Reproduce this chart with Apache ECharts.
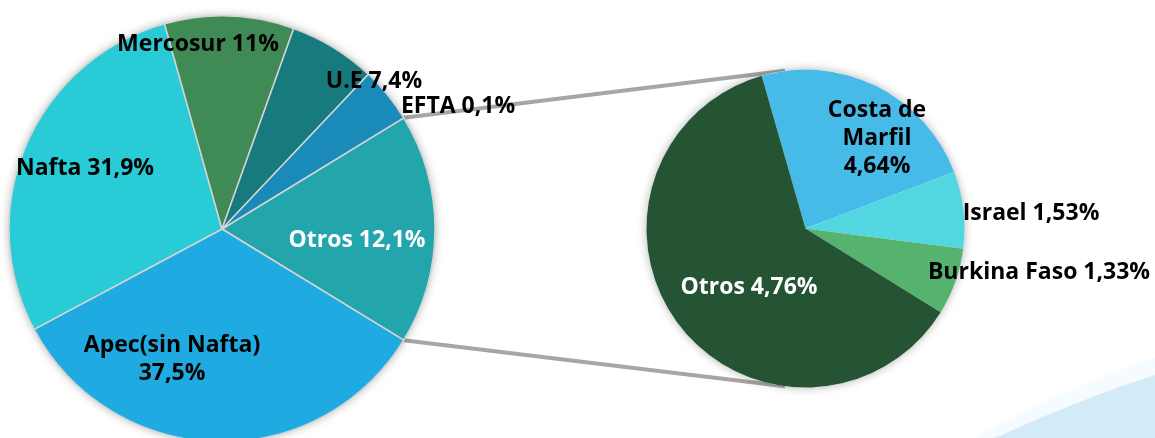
<!DOCTYPE html>
<html lang="es">

<head>
    <meta charset="UTF-8">
    <title>Exportaciones por bloque</title>
    <script src="https://cdn.jsdelivr.net/npm/echarts@6/dist/echarts.min.js"></script>
    <style>
        html, body {
            margin: 0;
            padding: 0;
            background: #fff;
        }
        #chart {
            width: 1155px;
            height: 438px;
        }
    </style>
</head>

<body>
    <div id="chart"></div>

    <script>
        // pie principal, en sentido horario empezando por "Otros"
        var bloques = ['Otros', 'Apec(sin Nafta)', 'Nafta', 'Mercosur', 'U.E', 'EFTA'];
        var bloqueValores = [19.6, 37.5, 31.9, 11, 7.4, 4.7];
        var bloqueEtiquetas = ['Otros 12,1%', 'Apec(sin Nafta)\n37,5%', 'Nafta 31,9%', 'Mercosur 11%', 'U.E 7,4%', 'EFTA 0,1%'];

        // detalle de "Otros"
        var paises = ['Costa de Marfil', 'Israel', 'Burkina Faso', 'Otros'];
        var paisValores = [4.64, 1.53, 1.33, 12.1];
        var paisEtiquetas = ['Costa de\nMarfil\n4,64%', 'Israel 1,53%', 'Burkina Faso 1,33%', 'Otros 4,76%'];

        var coloresBloques = ['#22a5ab', '#1fabe2', '#28cbd6', '#3f8a55', '#177b7d', '#1a8ab8'];
        var coloresPaises = ['#47bbe8', '#52d7e0', '#56b26f', '#255435'];

        // layout
        var izq = { c: [222, 229], r: 213 };
        var der = { c: [805.5, 228.5], r: 159, start: 106 };
        var posBloques = [[357, 240], [172, 359], [85, 168], [198, 44], [374, 81], [458, 106]];
        var posPaises = [[877, 138], [1031, 213], [1039, 272], [749, 287]];

        var total = bloqueValores.reduce(function (a, b) { return a + b; }, 0);
        var medio = 360 * bloqueValores[0] / total / 2;

        function punto(p, ang) {
            var a = ang * Math.PI / 180;
            return [p.c[0] + p.r * Math.cos(a), p.c[1] - p.r * Math.sin(a)];
        }
        var a1 = punto(izq, medio), a2 = punto(izq, -medio);
        var b1 = punto(der, 97.4), b2 = punto(der, -97.4);

        // curva decorativa abajo a la derecha
        function curva(p0, p1, p2) {
            var pts = [];
            for (var i = 0; i <= 30; i++) {
                var t = i / 30, u = 1 - t;
                pts.push([u * u * p0[0] + 2 * u * t * p1[0] + t * t * p2[0],
                          u * u * p0[1] + 2 * u * t * p1[1] + t * t * p2[1]]);
            }
            pts.push([1155, 438]);
            return pts;
        }

        function datos(nombres, valores, colores) {
            return nombres.map(function (n, i) {
                var d = {
                    name: n,
                    value: valores[i],
                    itemStyle: { color: colores[i] }
                };
                if (n === 'Otros') d.label = { color: '#fff' };
                return d;
            });
        }

        var fuente = {
            fontFamily: 'Open Sans',
            fontWeight: 'bold',
            fontSize: 23,
            lineHeight: 28
        };

        var chart = echarts.init(document.getElementById('chart'));
        chart.setOption({
            animation: false,
            backgroundColor: '#fff',
            graphic: [
                {
                    type: 'polygon',
                    z: 0,
                    shape: { points: curva([975, 438], [1065, 388], [1155, 358]) },
                    style: { fill: 'rgba(214,238,250,0.25)' }
                },
                {
                    type: 'polygon',
                    z: 0,
                    shape: { points: curva([995, 438], [1078, 400], [1155, 375]) },
                    style: { fill: '#d3ebf8' }
                },
                {
                    type: 'line',
                    z: 0,
                    shape: { x1: a1[0], y1: a1[1], x2: b1[0], y2: b1[1] },
                    style: { stroke: '#a6a6a6', lineWidth: 4 }
                },
                {
                    type: 'line',
                    z: 0,
                    shape: { x1: a2[0], y1: a2[1], x2: b2[0], y2: b2[1] },
                    style: { stroke: '#a6a6a6', lineWidth: 4 }
                },
                {
                    type: 'circle',
                    z: 0,
                    shape: { cx: izq.c[0], cy: izq.c[1], r: izq.r },
                    style: { fill: '#fff', shadowBlur: 10, shadowColor: 'rgba(0,0,0,0.3)' }
                },
                {
                    type: 'circle',
                    z: 0,
                    shape: { cx: der.c[0], cy: der.c[1], r: der.r },
                    style: { fill: '#fff', shadowBlur: 10, shadowColor: 'rgba(0,0,0,0.3)' }
                }
            ],
            series: [
                {
                    name: 'Bloques',
                    type: 'pie',
                    center: izq.c,
                    radius: izq.r,
                    startAngle: medio,
                    clockwise: true,
                    silent: true,
                    data: datos(bloques, bloqueValores, coloresBloques),
                    itemStyle: { borderColor: '#d4d4d4', borderWidth: 1.5 },
                    label: Object.assign({
                        show: true,
                        position: 'inside',
                        color: '#000',
                        formatter: function (p) { return bloqueEtiquetas[p.dataIndex]; }
                    }, fuente),
                    labelLine: { show: false },
                    labelLayout: function (p) {
                        var pos = posBloques[p.dataIndex];
                        return { x: pos[0], y: pos[1], align: 'center', verticalAlign: 'middle' };
                    }
                },
                {
                    name: 'Otros',
                    type: 'pie',
                    center: der.c,
                    radius: der.r,
                    startAngle: der.start,
                    clockwise: true,
                    silent: true,
                    data: datos(paises, paisValores, coloresPaises),
                    itemStyle: { borderWidth: 0 },
                    label: Object.assign({
                        show: true,
                        position: 'inside',
                        color: '#000',
                        formatter: function (p) { return paisEtiquetas[p.dataIndex]; }
                    }, fuente),
                    labelLine: { show: false },
                    labelLayout: function (p) {
                        var pos = posPaises[p.dataIndex];
                        return { x: pos[0], y: pos[1], align: 'center', verticalAlign: 'middle' };
                    }
                }
            ]
        });
    </script>
</body>

</html>
